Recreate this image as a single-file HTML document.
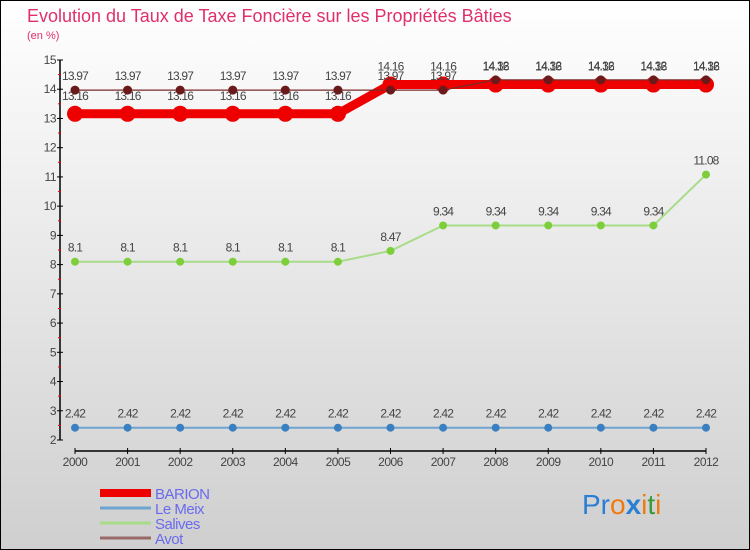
<!DOCTYPE html>
<html><head><meta charset="utf-8"><style>
body{margin:0;}
#c{width:750px;height:550px;position:relative;overflow:hidden;}
svg{display:block;font-family:"Liberation Sans",sans-serif;}
</style></head><body>
<div id="c">
<svg id="s" width="750" height="550">
<defs><linearGradient id="bg" x1="0" y1="0" x2="0" y2="1"><stop offset="0" stop-color="#ffffff"/><stop offset="1" stop-color="#cfcfcf"/></linearGradient></defs>
<rect x="0.5" y="0.5" width="749" height="549" fill="url(#bg)" stroke="#000"/>
<text x="27" y="22" font-size="18" fill="#e0306a">Evolution du Taux de Taxe Foncière sur les Propriétés Bâties</text>
<text x="27" y="39" font-size="11" fill="#e0306a">(en %)</text>
<g id="axes"></g>
<g id="series"></g>
<g id="legend"></g>
<text x="582" y="514" font-size="28"><tspan fill="#2a7fd4">Pr</tspan><tspan fill="#f07a10">o</tspan><tspan fill="#2a7fd4" font-weight="bold">x</tspan><tspan fill="#f07a10">i</tspan><tspan fill="#3a9a3a">t</tspan><tspan fill="#f07a10">i</tspan></text>
</svg></div>
<script>
const years=[2000,2001,2002,2003,2004,2005,2006,2007,2008,2009,2010,2011,2012];
const barion=[13.16,13.16,13.16,13.16,13.16,13.16,14.16,14.16,14.16,14.16,14.16,14.16,14.16];
const leMeix=[2.42,2.42,2.42,2.42,2.42,2.42,2.42,2.42,2.42,2.42,2.42,2.42,2.42];
const salives=[8.1,8.1,8.1,8.1,8.1,8.1,8.47,9.34,9.34,9.34,9.34,9.34,11.08];
const avot=[13.97,13.97,13.97,13.97,13.97,13.97,13.97,13.97,14.32,14.32,14.32,14.32,14.32];
const yTicks=[2,3,4,5,6,7,8,9,10,11,12,13,14,15];
const seriesNames=["BARION","Le Meix","Salives","Avot"];
const NS="http://www.w3.org/2000/svg";
const X=i=>75+i*(706-75)/(years.length-1);
const Y=v=>440-(v-2)*(380/13);
function mk(t,a,p,txt){const e=document.createElementNS(NS,t);for(const k in a)e.setAttribute(k,a[k]);if(txt!==undefined)e.textContent=txt;p.appendChild(e);return e;}
const ax=document.getElementById('axes');
let e=mk('line',{x1:60,y1:Y(15),x2:60,y2:Y(2),stroke:'#000','stroke-width':1.5},ax);


yTicks.forEach(v=>{
 mk('line',{x1:57,y1:Y(v),x2:63,y2:Y(v),stroke:'#000'},ax);
 if(v<15)mk('line',{x1:58,y1:Y(v+0.5),x2:61,y2:Y(v+0.5),stroke:'#e00'},ax);
 const t=mk('text',{x:56,y:Y(v)+4,'font-size':12,fill:'#444','text-anchor':'end','letter-spacing':'-0.5'},ax,v);
 
 
});
e=mk('line',{x1:75,y1:451,x2:706,y2:451,stroke:'#000','stroke-width':1.5},ax);


years.forEach((y,i)=>{
 mk('line',{x1:X(i),y1:448,x2:X(i),y2:454,stroke:'#000'},ax);
 const t=mk('text',{x:X(i),y:466,'font-size':12,fill:'#444','text-anchor':'middle','letter-spacing':'-0.5'},ax,y);
 
 
});
const sg=document.getElementById('series');
function draw(vals,name,color,w,r,ptc,labOff){
 const g=mk('g',{},sg);
 
 
 const pl=mk('polyline',{points:vals.map((v,i)=>X(i)+','+Y(v)).join(' '),fill:'none',stroke:color,'stroke-width':w},g);
 
 
 vals.forEach((v,i)=>{
  const c=mk('circle',{cx:X(i),cy:Y(v),r:r,fill:ptc},g);
  
  
  const t=mk('text',{x:X(i),y:Y(v)+labOff,'font-size':12,fill:'#444','text-anchor':'middle','letter-spacing':'-0.8'},g,v);
  
  
 });
}
draw(leMeix,'le-meix','#6fa3d0',2,4,'#3a80c0',-10);
draw(salives,'salives','#a8dc88',2,4,'#7ccf3a',-10);
draw(barion,'barion','#ee0000',9,8,'#ee0000',-14);
draw(avot,'avot','#7a2a2a',1.2,4.5,'#6a1a1a',-10);
const lg=document.getElementById('legend');
[['#ee0000',8],['#6fa3d0',3],['#a8dc88',3],['#9a6a6a',3]].forEach((s,i)=>{
 const y=493+i*15;
 const l=mk('line',{x1:100,y1:y,x2:151,y2:y,stroke:s[0],'stroke-width':s[1]},lg);
 
 
 const t=mk('text',{x:155,y:y+6,'font-size':15,fill:'#6a6aee','letter-spacing':'-0.5'},lg,seriesNames[i]);
 
 
});
</script>
</body></html>
